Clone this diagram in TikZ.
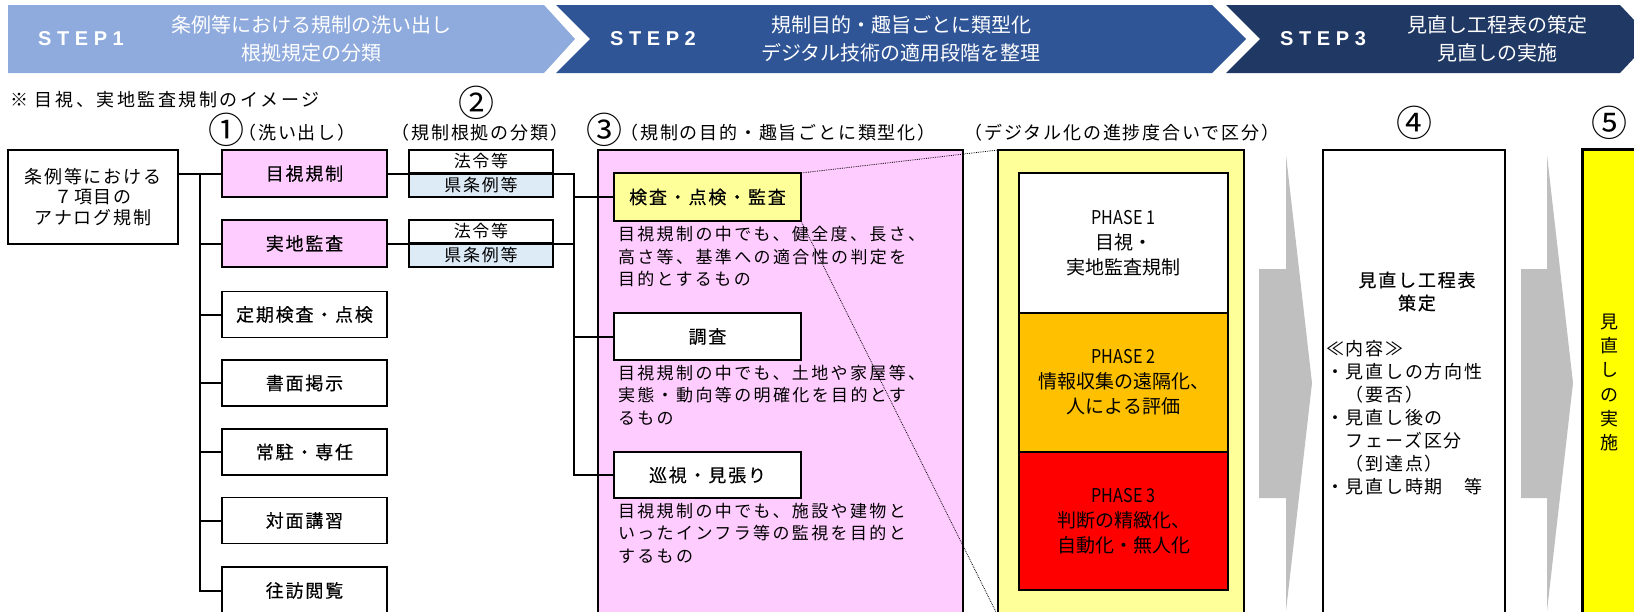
\documentclass[tikz,border=0pt]{standalone}
\usepackage{fontspec}
\setmainfont{Noto Sans CJK JP}
\newfontfamily\jpA[LetterSpace=10]{Noto Sans CJK JP}
\newfontfamily\jpM[LetterSpace=10,FakeBold=0.4]{Noto Sans CJK JP}
\newfontfamily\jpB[LetterSpace=14]{Noto Sans CJK JP}
\newfontfamily\stepfnt[LetterSpace=28]{Liberation Sans}
\newcommand\myfs[2]{\fontsize{#1pt}{#2pt}\selectfont}
\definecolor{stepA}{HTML}{8FAADC}
\definecolor{stepB}{HTML}{2F5597}
\definecolor{stepC}{HTML}{203864}
\definecolor{pinkf}{HTML}{FFCCFF}
\definecolor{bluef}{HTML}{DDEBF7}
\definecolor{lyellow}{HTML}{FFFF99}
\definecolor{phaseB}{HTML}{FFC000}
\definecolor{phaseC}{HTML}{FF0000}
\definecolor{brightyel}{HTML}{FFFF00}
\definecolor{grayar}{HTML}{BFBFBF}
\begin{document}
\begin{tikzpicture}[x=1pt,y=-1pt,
  every node/.style={inner sep=0pt, outer sep=0pt},
  stepname/.style={text=white, font=\stepfnt\bfseries\myfs{20}{22}},
  steptext/.style={text=white, align=center, font=\myfs{20}{28}},
  lbl/.style={font=\jpA\myfs{18}{20}},
  circ/.style={font=\myfs{36}{36}},
  box/.style={draw, line width=1.8pt, align=center, font=\jpM\myfs{18}{20}},
  lawcell/.style={draw, line width=1.6pt, minimum width=144, font=\jpA\myfs{17}{20}},
  conn/.style={line width=2pt},
  desc/.style={anchor=west, align=left, font=\jpB\myfs{17}{22.5}},
  phasebox/.style={draw, line width=2.6pt, minimum width=209, align=center, font=\myfs{19}{25}},
  container/.style={draw, line width=1.8pt, anchor=north west},
  dotl/.style={densely dotted, line width=0.8pt},
  arrowfill/.style={fill=grayar}
]
\useasboundingbox (0,0) rectangle (1634,611);

% header bands
\fill[stepA] (8,5) -- (544,5) -- (575,39) -- (544,73) -- (8,73) -- cycle;
\fill[stepB] (556,5) -- (1212,5) -- (1246,39) -- (1212,73) -- (556,73) -- (590,39) -- cycle;
\fill[stepC] (1226,5) -- (1620,5) -- (1652,39) -- (1620,73) -- (1226,73) -- (1260,39) -- cycle;
\node[stepname] (st1) at (81,39) {STEP1};
\node[steptext] (st1t) at (311,39) {条例等における規制の洗い出し\\根拠規定の分類};
\node[stepname] (st2) at (653,39) {STEP2};
\node[steptext] (st2t) at (901,39) {規制目的・趣旨ごとに類型化\\デジタル技術の適用段階を整理};
\node[stepname] (st3) at (1323,39) {STEP3};
\node[steptext] (st3t) at (1497,39) {見直し工程表の策定\\見直しの実施};

% labels
\node[font=\jpB\myfs{18}{20}, anchor=west] (note) at (10,100) {※\hspace{7pt}目視、実地監査規制のイメージ};
\node[circ] (n1) at (226,130) {①};
\node[circ] (n2) at (476,103) {②};
\node[circ] (n3) at (604,130) {③};
\node[circ] (n4) at (1414,123) {④};
\node[circ] (n5) at (1609,123) {⑤};
\node[lbl] (l1) at (297,133) {（洗い出し）};
\node[lbl] (l2) at (480,133) {（規制根拠の分類）};
\node[lbl] (l3) at (778,133) {（規制の目的・趣旨ごとに類型化）};
\node[lbl] (l4) at (1122,133) {（デジタル化の進捗度合いで区分）};

% containers
\node[container, fill=pinkf, minimum width=365, minimum height=480] (g3) at (598,150) {};
\node[container, fill=lyellow, minimum width=246, minimum height=466] (g4) at (998,150) {};
\node[container, fill=white, minimum width=182, minimum height=480] (g5) at (1323,150) {};
\node[container, fill=brightyel, line width=3pt, minimum width=70, minimum height=480] (g6) at (1582,149) {};

% gray arrows
\fill[arrowfill] (1259,269) -- (1286,269) -- (1286,155) -- (1312,383) -- (1286,611) -- (1286,498) -- (1259,498) -- cycle;
\fill[arrowfill] (1521,269) -- (1547,269) -- (1547,155) -- (1573,383) -- (1547,611) -- (1547,498) -- (1521,498) -- cycle;

% left source box
\node[box, minimum width=170, minimum height=94, font=\jpA\myfs{18}{20.5}] (src) at (93,197) {条例等における\\７項目の\\アナログ規制};

% column 1
\node[box, fill=pinkf, minimum width=165, minimum height=47] (c1) at (304.5,173.5) {目視規制};
\node[box, fill=pinkf, minimum width=165, minimum height=47] (c2) at (304.5,243.5) {実地監査};
\node[box, fill=white, minimum width=165, minimum height=46] (c3) at (304.5,314.5) {定期検査・点検};
\node[box, fill=white, minimum width=165, minimum height=46] (c4) at (304.5,383) {書面掲示};
\node[box, fill=white, minimum width=165, minimum height=46] (c5) at (304.5,452) {常駐・専任};
\node[box, fill=white, minimum width=165, minimum height=46] (c6) at (304.5,520.5) {対面講習};
\node[box, fill=white, minimum width=165, minimum height=47] (c7) at (304.5,590.5) {往訪閲覧};

% law cells
\node[lawcell, fill=white, minimum height=23] (h1) at (481,161.5) {法令等};
\node[lawcell, fill=bluef, minimum height=24] (k1) at (481,185) {県条例等};
\node[lawcell, fill=white, minimum height=23] (h2) at (481,231.5) {法令等};
\node[lawcell, fill=bluef, minimum height=24] (k2) at (481,255) {県条例等};

% column 3
\node[box, fill=lyellow, minimum width=187, minimum height=48] (p1) at (707.5,197) {検査・点検・監査};
\node[box, fill=white, minimum width=187, minimum height=47] (p2) at (707.5,336.5) {調査};
\node[box, fill=white, minimum width=187, minimum height=46] (p3) at (707.5,475) {巡視・見張り};
\node[desc] (d1) at (618,256.5) {目視規制の中でも、健全度、長さ、\\高さ等、基準への適合性の判定を\\目的とするもの};
\node[desc] (d2) at (618,395) {目視規制の中でも、土地や家屋等、\\実態・動向等の明確化を目的とす\\るもの};
\node[desc] (d3) at (618,533) {目視規制の中でも、施設や建物と\\いったインフラ等の監視を目的と\\するもの};

% phases
\node[phasebox, fill=white, minimum height=140] (ph1) at (1123.5,243) {\scalebox{0.85}[1]{PHASE 1}\\目視・\\実地監査規制};
\node[phasebox, fill=phaseB, minimum height=139] (ph2) at (1123.5,382.5) {\scalebox{0.85}[1]{PHASE 2}\\情報収集の遠隔化、\\人による評価};
\node[phasebox, fill=phaseC, minimum height=138] (ph3) at (1123.5,521) {\scalebox{0.85}[1]{PHASE 3}\\判断の精緻化、\\自動化・無人化};

% review box texts
\node[font=\jpM\myfs{18}{23}, align=center] (revt) at (1417,291.5) {見直し工程表\\策定};
\node[anchor=west, align=left, font=\jpA\myfs{18}{23}] (revc) at (1326,418) {≪内容≫\\・見直しの方向性\\　（要否）\\・見直し後の\\　フェーズ区分\\　（到達点）\\・見直し時期　等};
\node[font=\myfs{18}{24.2}, align=center] (impt) at (1609,382.5) {見\\直\\し\\の\\実\\施};

% connectors
\draw[conn] (src.east |- c1.west) -- (c1.west);
\coordinate (ta) at (200,173.5);
\draw[conn] (ta) |- (c7.west);
\foreach \q in {c2,c3,c4,c5,c6} \draw[conn] (ta |- \q.west) -- (\q.west);
\coordinate (tb) at (574,173.5);
\draw[conn] (c1.east) -- (tb) |- (p3.west);
\draw[conn] (c2.east) -- (tb |- c2.east);
\draw[conn] (tb |- p1.west) -- (p1.west);
\draw[conn] (tb |- p2.west) -- (p2.west);

% zoom callout
\draw[dotl] (p1.north east) -- (g4.north west);
\draw[dotl] (p1.south east) -- (g4.south west);
\end{tikzpicture}
\end{document}
